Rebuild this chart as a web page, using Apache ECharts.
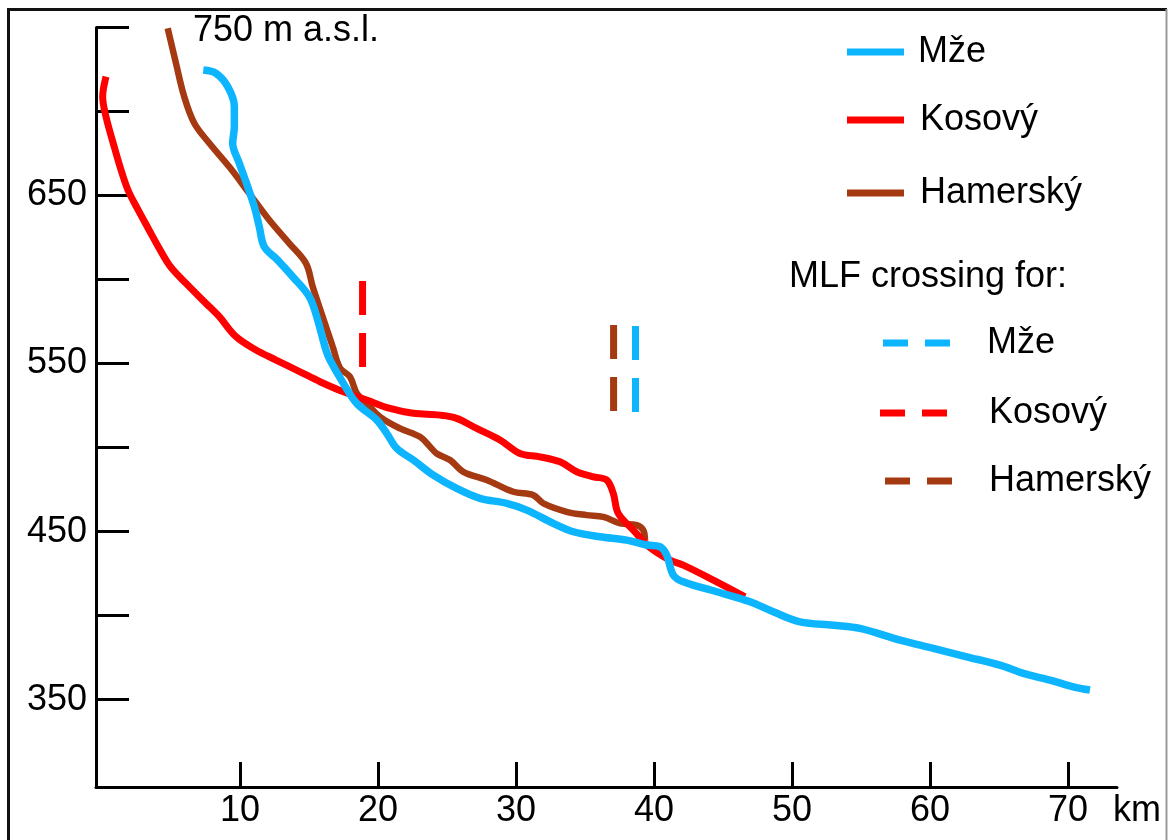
<!DOCTYPE html>
<html>
<head>
<meta charset="utf-8">
<title>Longitudinal profiles</title>
<script src="https://cdn.jsdelivr.net/npm/echarts@6/dist/echarts.min.js"></script>
<style>
	html, body { margin:0; padding:0; background:#fff; }
	#chartProfile { width:1168px; height:840px; }
</style>
</head>
<body>
<div id="chartProfile"></div>
<script>
//------------------------数据-开始------------------//
var xTickValues = [10, 20, 30, 40, 50, 60, 70];
var yTickValues = [350, 400, 450, 500, 550, 600, 650, 700, 750];
var yLabelValues = [350, 450, 550, 650];

//Mže - km / m a.s.l.
var mzeKm = [7.34, 8.26, 9.11, 9.59, 9.59, 9.47, 9.95, 10.56, 11.04, 11.40, 11.76, 12.73, 13.82, 15.02, 15.63, 16.23, 16.52, 17.49, 18.46, 19.91, 20.63, 21.36, 22.56, 24.01, 25.70, 27.39, 29.33, 30.78, 32.70, 34.15, 36.09, 38.02, 39.47, 40.43, 40.92, 41.40, 42.12, 44.54, 46.96, 48.64, 50.58, 52.99, 54.93, 57.83, 60.24, 62.66, 65.07, 66.76, 68.70, 70.38, 71.59];
var mzeElev = [724.7, 722.7, 714.8, 702.9, 691.0, 681.1, 669.2, 655.2, 643.3, 631.4, 619.5, 611.6, 601.7, 589.8, 575.9, 558.0, 552.1, 538.2, 526.3, 516.4, 508.5, 499.5, 492.6, 483.6, 475.7, 469.8, 466.8, 462.8, 454.9, 449.9, 446.9, 444.9, 442.0, 441.0, 436.0, 424.1, 420.1, 414.2, 408.2, 402.3, 396.3, 394.3, 392.4, 385.4, 380.5, 375.5, 370.5, 365.6, 361.6, 357.6, 355.7];

//Kosový
var kosKm = [0.29, 0.05, 0.29, 0.87, 1.38, 1.88, 2.54, 3.33, 4.13, 4.93, 6.09, 7.54, 8.50, 9.71, 11.16, 12.61, 14.35, 15.80, 17.49, 19.18, 20.87, 22.56, 24.49, 25.70, 27.15, 28.84, 30.29, 31.74, 33.19, 34.40, 35.60, 36.57, 37.05, 37.41, 38.50, 39.71, 41.16, 42.12, 44.54, 46.59];
var kosElev = [720.7, 708.8, 696.9, 679.5, 665.2, 653.3, 642.6, 630.7, 618.8, 608.0, 597.7, 585.8, 577.9, 566.0, 558.1, 552.1, 545.1, 539.2, 533.2, 528.3, 523.3, 520.4, 519.3, 517.4, 511.4, 504.5, 496.5, 494.5, 491.5, 485.6, 482.6, 480.7, 472.7, 460.8, 450.9, 440.5, 433.0, 430.0, 420.1, 411.2];

//Hamerský
var hamKm = [4.76, 5.36, 5.96, 6.69, 7.78, 9.22, 10.67, 12.12, 13.57, 14.78, 15.27, 15.99, 16.72, 17.25, 17.97, 18.46, 19.18, 20.14, 21.59, 23.04, 23.77, 24.25, 25.22, 26.18, 27.88, 29.80, 31.25, 31.98, 33.67, 35.12, 36.33, 37.54, 38.75, 39.22, 39.35];
var hamElev = [749.5, 728.7, 708.8, 693.0, 681.1, 667.1, 651.3, 635.4, 621.5, 609.6, 595.7, 577.9, 560.0, 547.3, 542.1, 532.3, 526.3, 518.3, 511.4, 506.4, 500.5, 496.5, 492.6, 485.6, 480.7, 473.7, 471.7, 466.8, 461.8, 459.8, 458.8, 454.9, 453.9, 450.9, 444.9];

//MLF crossing (vertical dashed marks)
var mlfNames = ["Mže", "Kosový", "Hamerský"];
var mlfKm = [38.66, 18.88, 37.07];
var mlfTop = [572.3, 599.1, 572.9];
var mlfBottom = [520.5, 547.9, 521.1];
//------------------------数据-结束------------------//

var fontName = '"Liberation Sans", Arial, sans-serif';
var colors = {"Mže":"#0db4fe", "Kosový":"#ff0000", "Hamerský":"#a53a12"};

function zipPoints(xs, ys){
	var arr = [];
	for(var i = 0; i < xs.length; i++){
		arr.push([xs[i], ys[i]]);
	}
	return arr;
}

function riverSeries(name, xs, ys, width){
	return {
		name: name,
		type: 'line',
		data: zipPoints(xs, ys),
		symbol: 'none',
		smooth: 0.35,
		lineStyle: {color: colors[name], width: width},
		itemStyle: {color: colors[name]},
		z: 3
	};
}

var seriesList = [
	riverSeries("Hamerský", hamKm, hamElev, 6.5),
	riverSeries("Kosový", kosKm, kosElev, 7),
	riverSeries("Mže", mzeKm, mzeElev, 7.5)
];
for(var i = 0; i < mlfNames.length; i++){
	seriesList.push({
		name: "MLF " + mlfNames[i],
		type: 'line',
		data: [[mlfKm[i], mlfTop[i]], [mlfKm[i], mlfBottom[i]]],
		symbol: 'none',
		lineStyle: {color: colors[mlfNames[i]], width: 7, type: [34, 18], cap: 'butt'},
		itemStyle: {color: colors[mlfNames[i]]}
	});
}

//图例 - one legend per entry so each sits where the figure has it
//the legend puts 5px between icon and text, the rest goes into padding
function legendItem(name, left, centerY, dashed, gap){
	return {
		data: [name],
		left: left,
		top: centerY - 18,
		padding: 0,
		itemWidth: dashed ? 67 : 57,
		itemHeight: 7,
		itemGap: 0,
		icon: dashed ? 'path://M0,0H25V7H0Z M42,0H67V7H42Z' : 'rect',
		itemStyle: {borderWidth: 0},
		selectedMode: false,
		formatter: function(n){ return n.replace('MLF ', ''); },
		textStyle: {fontSize: 36, lineHeight: 36, color: '#000', fontFamily: fontName, padding: [0, 0, 0, gap - 5]}
	};
}

var myChart = echarts.init(document.getElementById('chartProfile'));
var options = {
	animation: false,
	backgroundColor: '#fff',
	grid: {left: 96, right: 51, top: 27.5, bottom: 53},
	xAxis: {
		type: 'value',
		min: -0.435,
		max: 73.55,
		name: 'km',
		nameLocation: 'end',
		nameGap: -4,
		nameTextStyle: {fontSize: 36, color: '#000', fontFamily: fontName, align: 'left', verticalAlign: 'top', padding: [6, 0, 0, 0]},
		axisLine: {onZero: false, lineStyle: {color: '#000', width: 3}},
		axisTick: {inside: true, length: 25, customValues: xTickValues, lineStyle: {color: '#000', width: 3}},
		axisLabel: {customValues: xTickValues, fontSize: 36, color: '#000', margin: 6, fontFamily: fontName},
		splitLine: {show: false}
	},
	yAxis: {
		type: 'value',
		min: 298,
		max: 750,
		axisLine: {onZero: false, lineStyle: {color: '#000', width: 3}},
		axisTick: {inside: true, length: 33, customValues: yTickValues, lineStyle: {color: '#000', width: 3}},
		axisLabel: {customValues: yLabelValues, fontSize: 36, color: '#000', margin: 9, fontFamily: fontName, padding: [12, 0, 0, 0]},
		splitLine: {show: false}
	},
	legend: [
		legendItem("Mže", 847, 52, false, 14),
		legendItem("Kosový", 847, 120, false, 16),
		legendItem("Hamerský", 847, 193, false, 16),
		legendItem("MLF Mže", 883, 343, true, 37),
		legendItem("MLF Kosový", 880, 413, true, 42),
		legendItem("MLF Hamerský", 885, 481, true, 37)
	],
	graphic: [
		//frame
		{type: 'line', shape: {x1: 8.5, y1: 8, x2: 8.5, y2: 840}, style: {stroke: '#111', lineWidth: 3}},
		{type: 'line', shape: {x1: 7, y1: 9.5, x2: 1167, y2: 9.5}, style: {stroke: '#111', lineWidth: 3}},
		{type: 'line', shape: {x1: 1166.5, y1: 9, x2: 1166.5, y2: 840}, style: {stroke: '#999', lineWidth: 2}},
		{type: 'text', left: 193, top: 13, style: {text: '750 m a.s.l.', fontSize: 36, fill: '#000', fontFamily: fontName}},
		{type: 'text', left: 789, top: 259, style: {text: 'MLF crossing for:', fontSize: 36, fill: '#000', fontFamily: fontName}}
	],
	series: seriesList
};
myChart.setOption(options);
</script>
</body>
</html>
